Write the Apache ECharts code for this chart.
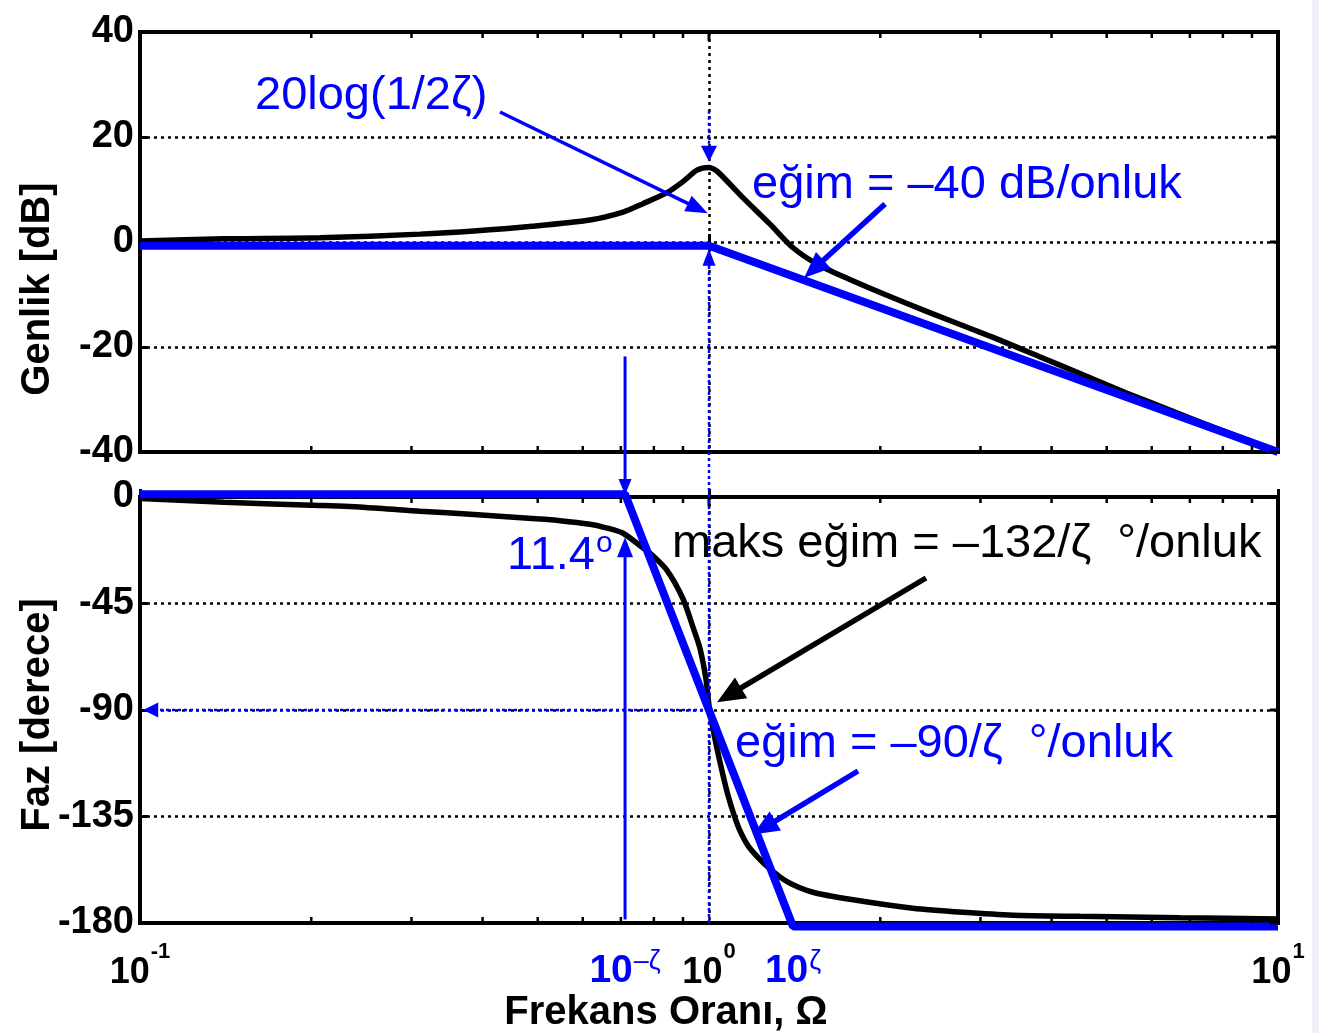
<!DOCTYPE html>
<html>
<head>
<meta charset="utf-8">
<title>Bode diyagramı</title>
<script src="https://cdn.jsdelivr.net/npm/echarts@6/dist/echarts.min.js"></script>
<style>
  html, body { margin: 0; padding: 0; background: #ffffff; }
  #chart { width: 1319px; height: 1033px; }
</style>
</head>
<body>
<div id="chart"></div>
<script>
// ---- data ---------------------------------------------------------------
// magnitude response (frequency ratio, dB)
const magFreq = [0.1, 0.1405, 0.2072, 0.3105, 0.3864, 0.4886, 0.6177, 0.7063, 0.7655, 0.8437,
                 0.9, 0.9526, 1.0, 1.033, 1.148, 1.28, 1.405, 1.548, 1.748, 2.039,
                 2.436, 3.181, 3.802, 4.542, 5.428, 6.486, 7.75, 10];
const magDb   = [0.2, 0.6, 0.8, 1.5, 2.1, 3.0, 4.2, 5.7, 7.3, 9.4,
                 11.5, 13.7, 14.2, 13.5, 8.4, 3.4, -1.1, -4.2, -6.9, -10.0,
                 -13.4, -18.3, -21.8, -25.3, -28.8, -32.1, -35.4, -39.9];

// straight-line magnitude asymptote
const magAsymFreq = [0.1, 1, 10];
const magAsymDb   = [-0.7, -0.7, -40];

// phase response (frequency ratio, degrees)
const phaseFreq = [0.1, 0.1405, 0.2072, 0.2495, 0.3105, 0.3864, 0.4886, 0.5471, 0.6177, 0.6566,
                   0.7063, 0.7655, 0.7943, 0.8437, 0.9, 0.9373, 0.9642, 0.988, 1.0, 1.0163,
                   1.0455, 1.0799, 1.1244, 1.1618, 1.1901, 1.2645, 1.3714, 1.5233, 1.7689, 2.2832,
                   2.7955, 3.4218, 4.4874, 6.7271, 10];
const phaseDeg  = [-0.6, -2.2, -3.6, -4.4, -6.0, -7.4, -9.1, -10.0, -11.5, -12.9,
                   -15.3, -21.5, -24.5, -31, -43, -55, -64, -77, -88, -98,
                   -112, -126, -139, -146, -149.5, -156, -162.5, -167, -170, -173.8,
                   -175.5, -176.7, -177.2, -177.8, -178.3];

// straight-line phase asymptote (breaks at 10^-zeta and 10^zeta)
const phaseAsymFreq = [0.1, 0.712, 1.405, 10];
const phaseAsymDeg  = [1.2, 1.2, -181.5, -181.5];

// axis ticks
const magTicks = [-40, -20, 0, 20, 40];
const phaseTicks = [-180, -135, -90, -45, 0];
const freqTicks = [0.1, 1, 10];
const freqTickPowers = ['-1', '0', '1'];
const freqMinorTicks = [0.2, 0.3, 0.4, 0.5, 0.6, 0.7, 0.8, 0.9, 2, 3, 4, 5, 6, 7, 8, 9];

// ---- chart --------------------------------------------------------------
const FONT = "'Liberation Sans', Arial, Helvetica, sans-serif";
const BLUE = '#0000ff';
const chart = echarts.init(document.getElementById('chart'), null, { renderer: 'canvas' });

const zip = (xs, ys) => xs.map((x, i) => [x, ys[i]]);

const gridBoxes = [
  { left: 140, top: 32, width: 1138, height: 420 },
  { left: 140, top: 497, width: 1138, height: 426 }
];

function powerLabel(v) {
  let best = 0;
  freqTicks.forEach((t, i) => {
    if (Math.abs(Math.log10(v) - Math.log10(t)) < Math.abs(Math.log10(v) - Math.log10(freqTicks[best]))) best = i;
  });
  return '{b|10}{s|' + freqTickPowers[best] + '}';
}

function xAxisCfg(g) {
  return {
    type: 'log', logBase: 10, gridIndex: g, min: freqTicks[0], max: freqTicks[freqTicks.length - 1],
    axisLine: { show: false },
    axisTick: { show: true, inside: true, length: 8, lineStyle: { color: '#000', width: 3 } },
    splitLine: { show: true, lineStyle: { color: '#000', width: 2.5, type: [3, 4] } },
    axisLabel: g === 1 ? {
      show: true, margin: 32, formatter: powerLabel,
      rich: {
        b: { fontFamily: FONT, fontSize: 36, fontWeight: 'bold', color: '#000', lineHeight: 36,
             verticalAlign: 'bottom' },
        s: { fontFamily: FONT, fontSize: 22, fontWeight: 'bold', color: '#000', lineHeight: 22,
             padding: [0, 0, 28, 1], verticalAlign: 'bottom' }
      }
    } : { show: false }
  };
}

function yAxisCfg(g, ticks) {
  return {
    type: 'value', gridIndex: g, min: ticks[0], max: ticks[ticks.length - 1],
    interval: ticks[1] - ticks[0],
    axisLine: { show: false },
    axisTick: { show: true, inside: true, length: 8, lineStyle: { color: '#000', width: 3 } },
    splitLine: { show: true, lineStyle: { color: '#000', width: 2.5, type: [3, 4] } },
    axisLabel: { show: true, margin: 6, color: '#000', fontFamily: FONT, fontSize: 38, fontWeight: 'bold' }
  };
}

chart.setOption({
  animation: false,
  backgroundColor: '#ffffff',
  grid: gridBoxes.map(b => Object.assign({
    show: true, borderColor: '#000', borderWidth: 4, backgroundColor: 'transparent', containLabel: false
  }, b)),
  xAxis: [xAxisCfg(0), xAxisCfg(1)],
  yAxis: [yAxisCfg(0, magTicks), yAxisCfg(1, phaseTicks)],
  series: [
    { name: 'genlik', type: 'line', xAxisIndex: 0, yAxisIndex: 0, data: zip(magFreq, magDb),
      symbol: 'none', smooth: 0.25, lineStyle: { color: '#000', width: 5.5 }, z: 3 },
    { name: 'genlik asimptot', type: 'line', xAxisIndex: 0, yAxisIndex: 0, data: zip(magAsymFreq, magAsymDb),
      symbol: 'none', clip: false, lineStyle: { color: BLUE, width: 8 }, z: 4 },
    { name: 'faz', type: 'line', xAxisIndex: 1, yAxisIndex: 1, data: zip(phaseFreq, phaseDeg),
      symbol: 'none', smooth: 0.25, lineStyle: { color: '#000', width: 5.5 }, z: 3 },
    { name: 'faz asimptot', type: 'line', xAxisIndex: 1, yAxisIndex: 1, data: zip(phaseAsymFreq, phaseAsymDeg),
      symbol: 'none', clip: false, lineStyle: { color: BLUE, width: 8 }, z: 4 }
  ]
});

// ---- annotations --------------------------------------------------------
const P0 = (x, y) => chart.convertToPixel({ xAxisIndex: 0, yAxisIndex: 0 }, [x, y]);
const P1 = (x, y) => chart.convertToPixel({ xAxisIndex: 1, yAxisIndex: 1 }, [x, y]);

const elements = [];

function line(a, b, color, width, dash) {
  elements.push({ type: 'line', z: 100, silent: true,
    shape: { x1: a[0], y1: a[1], x2: b[0], y2: b[1] },
    style: { stroke: color, lineWidth: width, lineDash: dash || null } });
}

function arrow(from, to, color, width, headLen, headWidth, dash) {
  const dx = to[0] - from[0], dy = to[1] - from[1];
  const len = Math.hypot(dx, dy);
  const ux = dx / len, uy = dy / len;
  const bx = to[0] - ux * headLen, by = to[1] - uy * headLen;
  const hw = headWidth / 2;
  line(from, [bx + ux * 2, by + uy * 2], color, width, dash);
  elements.push({ type: 'polygon', z: 101, silent: true,
    shape: { points: [[to[0], to[1]], [bx - uy * hw, by + ux * hw], [bx + uy * hw, by - ux * hw]] },
    style: { fill: color } });
}

function text(x, y, content, opts) {
  elements.push({ type: 'text', z: 102, silent: true, x, y,
    rotation: opts.rotation || 0,
    style: Object.assign({
      text: content, fill: opts.color || '#000', fontFamily: FONT,
      fontSize: opts.size, fontWeight: opts.weight || 'normal',
      align: opts.align || 'left', verticalAlign: opts.valign || 'middle',
      textAlign: opts.align || 'left', textVerticalAlign: opts.valign || 'middle'
    }, opts.rich ? { rich: opts.rich } : {}) });
}

// minor and major ticks along all frame edges
gridBoxes.forEach((b, g) => {
  const P = g === 0 ? P0 : P1;
  const yTop = b.top, yBot = b.top + b.height, xRight = b.left + b.width;
  freqMinorTicks.forEach(v => {
    const x = P(v, 0)[0];
    line([x, yTop], [x, yTop + 6], '#000', 2.5);
    line([x, yBot], [x, yBot - 6], '#000', 2.5);
  });
  const x1 = P(1, 0)[0];
  line([x1, yTop], [x1, yTop + 9], '#000', 3);
  (g === 0 ? magTicks : phaseTicks).forEach(v => {
    const y = P(1, v)[1];
    line([xRight, y], [xRight - 8, y], '#000', 3);
  });
});

const dotted = [3, 3];
const TXT = 47;

// resonance peak marker
arrow(P0(1, 25), P0(1, 15.3), BLUE, 2.5, 16, 16, dotted);
// corner marker on the magnitude asymptote, running down through the phase plot
arrow(P1(1, -180), P0(1, -1.3), BLUE, 2.5, 17, 13, dotted);
// 20log(1/2ζ) pointer
arrow([500, 112], P0(0.995, 5.5), BLUE, 3.5, 22, 17);
text(255, 96, '20log(1/2ζ)', { size: TXT, color: BLUE });
// -40 dB/decade pointer
arrow([885, 204], P0(1.47, -6.8), BLUE, 5.5, 26, 22);
text(752, 185, 'eğim = –40 dB/onluk', { size: TXT, color: BLUE });

// 10^-ζ markers
arrow(P0(0.712, -21.8), P1(0.712, 0.8), BLUE, 3, 16, 13);
arrow(P1(0.712, -178.5), P1(0.712, -17), BLUE, 3, 20, 16);
text(507, 556, '{a|11.4}{s|o}', { size: TXT, color: BLUE,
  rich: { a: { fontFamily: FONT, fontSize: TXT, color: BLUE, lineHeight: TXT, verticalAlign: 'bottom' },
          s: { fontFamily: FONT, fontSize: 30, color: BLUE, lineHeight: 30, verticalAlign: 'bottom',
               padding: [0, 0, 21, 1] } } });

// -90 degree level
arrow(P1(1, -90), P1(0.1013, -90), BLUE, 2.5, 15, 15, dotted);

// maximum slope pointer
arrow([926, 578], P1(1.033, -86.7), '#000', 5.5, 28, 24);
text(672, 544, 'maks eğim = –132/ζ  °/onluk', { size: TXT, color: '#000' });

// asymptote slope pointer
arrow([858, 771], P1(1.195, -142.6), BLUE, 5.5, 26, 22);
text(735, 744, 'eğim = –90/ζ  °/onluk', { size: TXT, color: BLUE });

// break-frequency labels under the axis
const supRich = {
  b: { fontFamily: FONT, fontSize: 39, fontWeight: 'bold', color: BLUE, lineHeight: 39, verticalAlign: 'bottom' },
  s: { fontFamily: FONT, fontSize: 27, color: BLUE, lineHeight: 27, verticalAlign: 'bottom', padding: [0, 0, 16, 1] }
};
const axisBottom = gridBoxes[1].top + gridBoxes[1].height;
text(P1(0.712, 0)[0], axisBottom + 29, '{b|10}{s|–ζ}', { size: 39, color: BLUE, align: 'center', valign: 'top', rich: supRich });
text(P1(1.405, 0)[0], axisBottom + 29, '{b|10}{s|ζ}', { size: 39, color: BLUE, align: 'center', valign: 'top', rich: supRich });

// axis titles
text(38, 289, 'Genlik [dB]', { size: 40, weight: 'bold', align: 'center', rotation: Math.PI / 2 });
text(38, 715, 'Faz [derece]', { size: 40, weight: 'bold', align: 'center', rotation: Math.PI / 2 });
text(666, 1013, 'Frekans Oranı, Ω', { size: 40, weight: 'bold', align: 'center' });

// page edge tint
elements.push({ type: 'rect', z: 0, silent: true, shape: { x: 1312, y: 0, width: 7, height: 1033 },
  style: { fill: '#eef2f8' } });

chart.setOption({ graphic: { elements } });
</script>
</body>
</html>
